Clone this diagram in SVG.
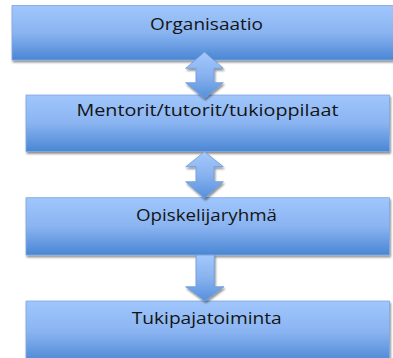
<svg xmlns="http://www.w3.org/2000/svg" width="393" height="358" viewBox="0 0 393 358">
  <defs>
    <linearGradient id="boxGrad" x1="0" y1="0" x2="0" y2="1">
      <stop offset="0" stop-color="#a0c6fc"/>
      <stop offset="0.5" stop-color="#8ab4f1"/>
      <stop offset="1" stop-color="#4a86d4"/>
    </linearGradient>
    <linearGradient id="arrGrad" x1="0" y1="0" x2="0" y2="1">
      <stop offset="0" stop-color="#a3c8fc"/>
      <stop offset="0.5" stop-color="#88b2ef"/>
      <stop offset="1" stop-color="#5590dc"/>
    </linearGradient>
    <filter id="shadow" x="-5%" y="-10%" width="110%" height="130%">
      <feGaussianBlur in="SourceAlpha" stdDeviation="1.2"/>
      <feOffset dx="0.5" dy="1.8" result="b"/>
      <feComponentTransfer><feFuncA type="linear" slope="0.45"/></feComponentTransfer>
      <feMerge><feMergeNode/><feMergeNode in="SourceGraphic"/></feMerge>
    </filter>
  </defs>
  <style>
    .box { fill: url(#boxGrad); stroke: #7ea8e0; stroke-width: 0.8; filter: url(#shadow); }
    .arrow { fill: url(#arrGrad); stroke: #6d9bd9; stroke-width: 0.8; filter: url(#shadow); }
    .label { font-family: "Open Sans", "Liberation Sans", Arial, sans-serif; font-size: 17px; fill: #141414; text-anchor: middle; }
  </style>
  <rect width="393" height="358" fill="#ffffff"/>

  <g id="node-organisaatio">
    <rect class="box" x="12" y="5.5" width="392" height="54.5"/>
    <text class="label" x="206.5" y="29.5" textLength="113" lengthAdjust="spacingAndGlyphs">Organisaatio</text>
  </g>
  <g id="node-mentorit">
    <rect class="box" x="26" y="95" width="363.5" height="56.5"/>
    <text class="label" x="207.5" y="115.5" textLength="262" lengthAdjust="spacingAndGlyphs">Mentorit/tutorit/tukioppilaat</text>
  </g>
  <g id="node-opiskelijaryhma">
    <rect class="box" x="26" y="197.7" width="363.5" height="57.3"/>
    <text class="label" x="206.5" y="220.5" textLength="141" lengthAdjust="spacingAndGlyphs">Opiskelijaryhmä</text>
  </g>
  <g id="node-tukipajatoiminta">
    <rect class="box" x="26" y="301" width="363.5" height="62"/>
    <text class="label" x="206.7" y="324" textLength="150" lengthAdjust="spacingAndGlyphs">Tukipajatoiminta</text>
  </g>

  <g id="connectors">
    <path class="arrow" d="M204.5,52 L223.3,68.3 L214,68.3 L214,82.7 L223.3,82.7 L204.5,98.3 L185.7,82.7 L196,82.7 L196,68.3 L185.7,68.3 Z"/>
    <path class="arrow" d="M204.5,151.7 L223.3,166.7 L214,166.7 L214,181.7 L223.3,181.7 L204.5,198.3 L185.7,181.7 L196,181.7 L196,166.7 L185.7,166.7 Z"/>
    <path class="arrow" d="M196,255 L214.3,255 L214.3,286.7 L224,286.7 L204.9,301 L185.7,286.7 L196,286.7 Z"/>
  </g>
</svg>
